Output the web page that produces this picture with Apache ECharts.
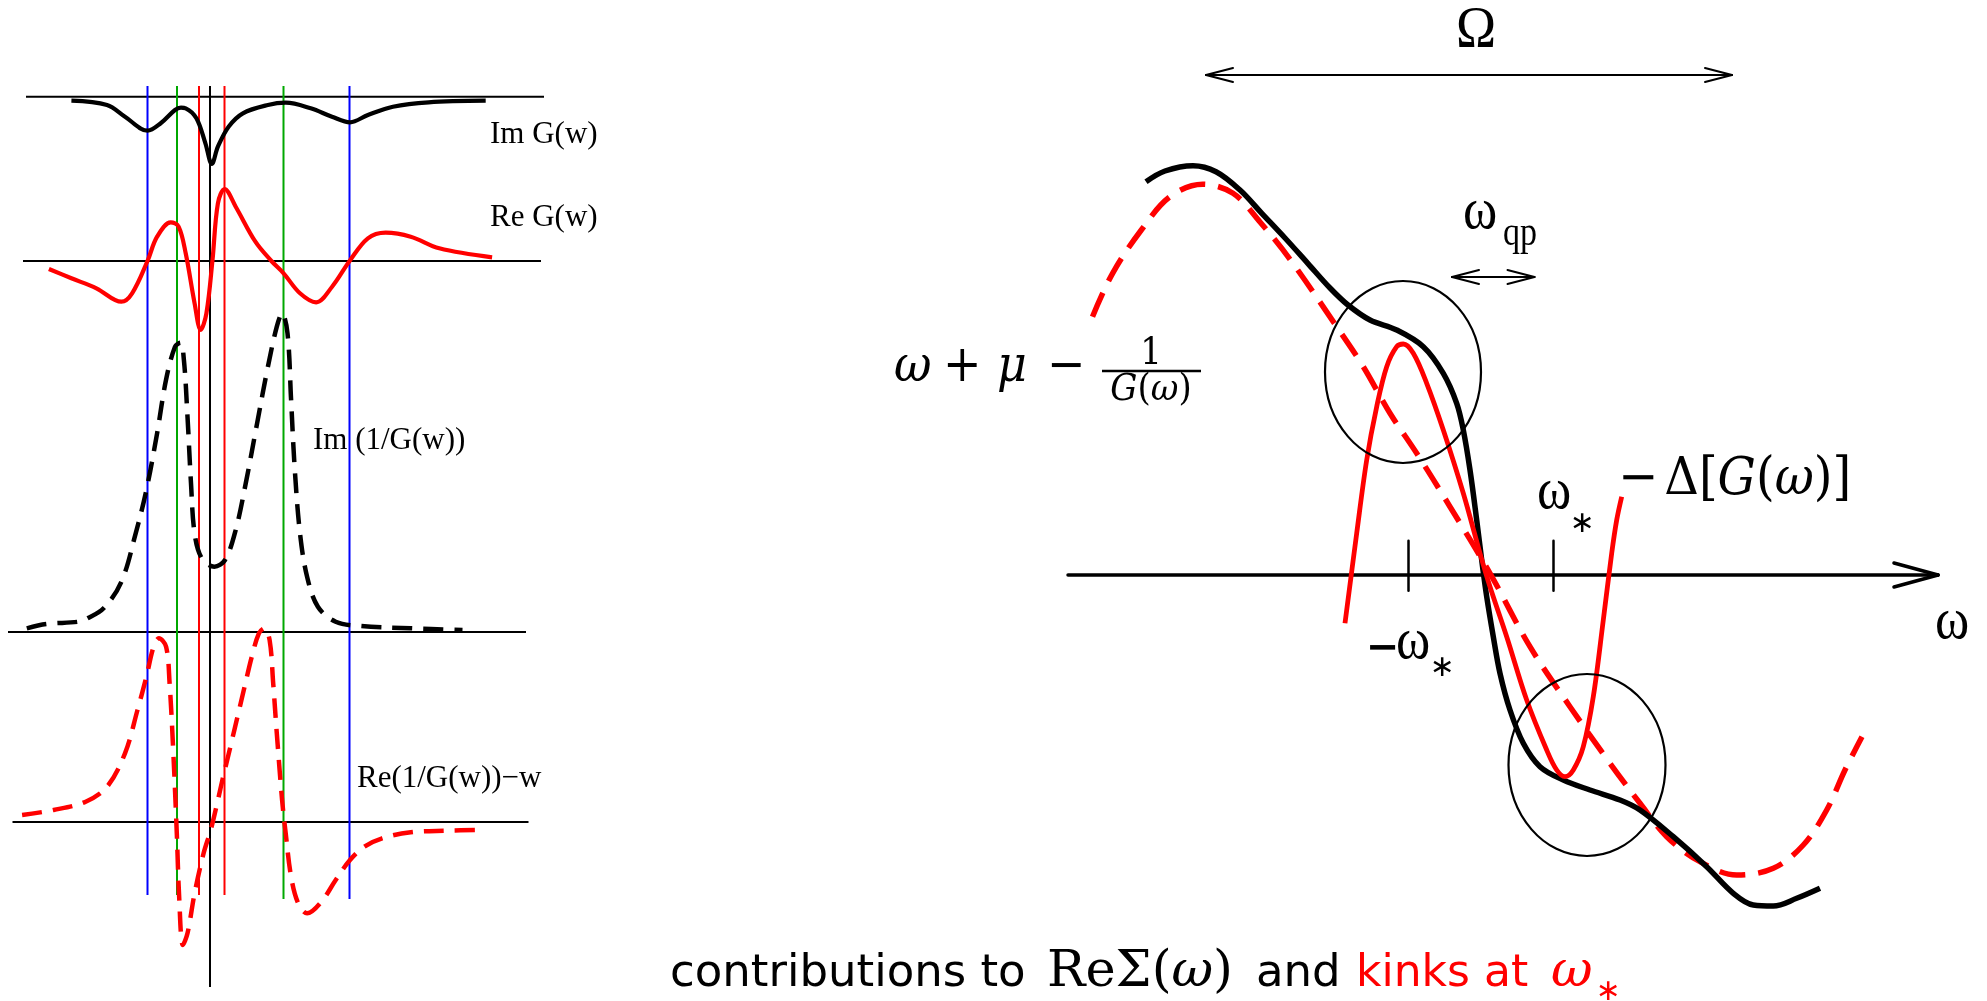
<!DOCTYPE html>
<html>
<head>
<meta charset="utf-8">
<title>contributions to Re Sigma and kinks</title>
<script src="https://cdn.jsdelivr.net/npm/echarts@6/dist/echarts.min.js"></script>
<style>
  html, body { margin: 0; padding: 0; background: #ffffff; }
  #chart { width: 1987px; height: 1001px; }
</style>
</head>
<body>
<div id="chart"></div>
<script>
// ---------------- left panel: spectral functions vs w (1 unit = 10 px) ----------------
const imG = [[-13.86,-0.40],[-10.3,-0.83],[-8.5,-2.0],[-6.25,-3.4],[-4.93,-2.66],[-3.5,-1.33],[-2.9,-1.1],[-2.43,-1.16],[-1.36,-2.16],[-0.46,-4.66],[0.18,-6.73],[0.79,-5.0],[1.86,-3.0],[3.29,-1.66],[5.79,-0.83],[7.57,-0.6],[10.07,-1.16],[12.2,-2.0],[14.0,-2.56],[15.79,-1.83],[18.29,-1.0],[21.86,-0.56],[27.57,-0.40]];
const reG = [[-16.11,-0.8],[-13.86,-1.73],[-11.36,-2.73],[-8.86,-4.07],[-7.79,-3.23],[-6.25,0],[-5.29,2.43],[-3.93,3.87],[-3.14,3.43],[-2.43,0.77],[-1.54,-4.23],[-0.93,-6.9],[-0.36,-5.23],[0.25,0.1],[0.79,5.77],[1.46,7.2],[2.57,5.43],[4.54,1.93],[6.14,0],[7.36,-1.23],[9.0,-3.23],[10.61,-4.13],[12.21,-2.57],[13.96,0],[15.79,2.27],[17.57,2.83],[20.07,2.43],[22.93,1.27],[28.21,0.37]];
const imInvG = [[-18.32,0.37],[-16.36,0.8],[-13.14,1.03],[-12.25,1.37],[-10.64,2.37],[-8.86,5.03],[-7.43,9.87],[-6.36,14.2],[-5.29,19.87],[-4.4,25.2],[-3.5,28.53],[-2.96,28.93],[-2.61,27.2],[-2.25,21.53],[-1.9,14.87],[-1.54,9.87],[-0.82,7.37],[0.43,6.53],[1.5,7.2],[2.57,10.2],[3.64,15.2],[4.71,20.87],[5.79,26.53],[6.68,30.53],[7.21,31.87],[7.75,29.87],[8.11,23.2],[8.46,16.53],[9.0,9.87],[9.71,5.53],[10.79,2.53],[12.57,1.03],[15.07,0.6],[20.07,0.37],[25.25,0.2]];
const reInvGMinusW = [[-18.79,0.7],[-15.64,1.2],[-12.43,2.03],[-10.29,3.53],[-8.5,6.87],[-7.25,11.2],[-6.36,14.53],[-5.64,17.53],[-5.11,18.37],[-4.39,17.53],[-4.04,13.87],[-3.68,7.2],[-3.32,-1.13],[-3.07,-7.8],[-2.71,-12.3],[-2.25,-11.13],[-1.54,-7.13],[-0.64,-3.13],[0.07,-0.8],[0.79,2.2],[1.32,4.53],[2.04,7.53],[2.75,10.53],[3.46,13.53],[4.18,16.53],[4.89,18.87],[5.43,19.37],[5.96,18.2],[6.32,13.87],[6.68,8.87],[7.21,2.2],[7.57,-1.13],[8.11,-5.47],[8.82,-8.13],[9.71,-9.13],[11.14,-7.97],[12.57,-5.8],[14.0,-3.8],[15.43,-2.47],[17.21,-1.63],[20.07,-1.03],[23.64,-0.87],[27.21,-0.8]];

// zero lines of the four strips: [w start, w end]
const leftAxisSpans = [[-18.4, 33.4], [-18.7, 33.1], [-20.2, 31.6], [-19.75, 31.85]];

// vertical marker frequencies, with their extent on the depth axis (0 = top)
const markerW = [-6.25, -3.3, -1.1, 0, 1.45, 7.35, 13.95];
const markerTop = [86, 86, 86, 86, 86, 86, 86];
const markerBottom = [895, 895, 895, 987, 895, 899, 899];
const markerColors = ['#0000ff', '#00a800', '#ff0000', '#000000', '#ff0000', '#00a800', '#0000ff'];

// ---------------- right panel: real parts vs omega (1 unit = 10 px) ----------------
const reSigma = [[-33.5,39.33],[-31.6,40.4],[-28.8,40.93],[-26.5,40.33],[-24.1,38.5],[-21.92,36.17],[-19.6,33.7],[-17.32,31.17],[-15.1,28.7],[-13.3,27.0],[-11.1,25.5],[-8.43,24.5],[-5.77,22.83],[-3.77,20.17],[-2.43,17.17],[-1.77,14.5],[-1.1,10.5],[-0.43,5.5],[0.07,1.5],[0.57,-2.17],[1.23,-6.17],[1.9,-9.83],[2.9,-13.5],[4.23,-16.83],[5.9,-19.17],[8.23,-20.5],[10.9,-21.5],[13.9,-22.5],[15.9,-23.5],[19.23,-26.17],[22.57,-29.17],[25.23,-31.83],[27.23,-33.0],[29.23,-33.1],[31.57,-32.33],[33.9,-31.33]];
const bareInverse = [[-38.85,25.83],[-36.84,30.17],[-33.97,34.5],[-31.1,37.83],[-27.83,39.07],[-24.8,38.17],[-22.1,35.3],[-19.05,31.5],[-14.43,24.83],[-11.77,20.83],[-9.1,16.17],[-6.43,12.17],[-3.1,6.83],[0.9,0.17],[4.9,-7.17],[8.9,-13.17],[12.9,-18.83],[15.9,-22.83],[18.57,-26.17],[21.9,-28.67],[25.57,-30.0],[29.23,-29.33],[32.23,-27.0],[34.57,-23.5],[36.4,-19.5],[38.1,-16.17]];
const minusDelta = [[-13.6,-4.83],[-12.43,4.17],[-11.43,11.5],[-10.43,16.83],[-9.43,20.83],[-8.43,22.83],[-7.77,23.1],[-6.77,22.17],[-5.43,19.17],[-3.77,14.5],[-1.77,8.17],[-0.1,2.17],[0.9,-1.17],[2.57,-6.17],[4.57,-12.5],[6.57,-17.5],[7.57,-19.5],[8.4,-20.17],[9.23,-19.5],[10.23,-17.17],[11.23,-12.17],[12.23,-4.5],[13.07,2.17],[13.57,5.5],[14.07,7.83]];

const omegaAxisSpan = [[-41.3, 45.7]];
const tickMarks = [-7.25, 7.25];
// double arrows: [start, end, height]
const spanArrows = [[-27.5, 25.1, 50.0], [-2.9, 5.35, 29.8]];
// highlighted regions: [centre omega, centre value, half width, half height]
const rings = [[-7.8, 20.3, 7.8, 9.1], [10.6, -19.0, 7.85, 9.1]];

// ---------------- text helpers ----------------
const SERIF = 'Liberation Serif';
const MATH = 'DejaVu Serif';
const SANS = 'DejaVu Sans';
const RED = '#ff0000';
const mctx = document.createElement('canvas').getContext('2d');

function textEl(x, baseline, t, o) {
  const size = o.size;
  return {
    type: 'text', x: x, y: baseline, scaleX: o.sx || 1, scaleY: o.sy || 1,
    silent: true, z: 100,
    style: {
      text: t, x: 0, y: -0.34 * size,
      fontSize: size, fontFamily: o.family,
      fontStyle: o.italic ? 'italic' : 'normal', fontWeight: o.bold ? 'bold' : 'normal',
      fill: o.color || '#000',
      align: o.align || 'left', textAlign: o.align || 'left',
      verticalAlign: 'middle', textVerticalAlign: 'middle'
    }
  };
}
function textWidth(t, o) {
  mctx.font = (o.italic ? 'italic ' : '') + (o.bold ? 'bold ' : '') + o.size + 'px "' + o.family + '"';
  return mctx.measureText(t).width * (o.sx || 1);
}
// lay out a run of differently styled pieces along one baseline
function runText(x0, baseline, parts, common) {
  const els = [];
  let x = x0;
  parts.forEach(p => {
    const o = Object.assign({}, common, p);
    if (p.at !== undefined) x = p.at;
    x += o.gap || 0;
    els.push(textEl(x, baseline + (o.dy || 0), o.t, o));
    x += textWidth(o.t, o);
  });
  return els;
}
function runWidth(parts, common) {
  return parts.reduce((s, p) => { const o = Object.assign({}, common, p); return s + (o.gap || 0) + textWidth(o.t, o); }, 0);
}

const graphics = [];
// left strip labels
const leftLab = { size: 31, family: SERIF };
graphics.push(textEl(490, 145, 'Im G(w)', leftLab));
graphics.push(textEl(490, 228, 'Re G(w)', leftLab));
graphics.push(textEl(313, 451, 'Im (1/G(w))', leftLab));
graphics.push(textEl(357, 789, 'Re(1/G(w))\u2212w', leftLab));

// right panel labels
const bigSym = { size: 52, family: SERIF, sy: 1.15 };
graphics.push(textEl(1476, 52, '\u03A9', { size: 54, family: SERIF, align: 'center', sy: 1.1 }));
graphics.push(textEl(1463, 233, '\u03C9', bigSym));
graphics.push(textEl(1503, 248, 'qp', { size: 34, family: SERIF, sy: 1.15 }));
graphics.push(textEl(1537, 513, '\u03C9', bigSym));
graphics.push(textEl(1582, 534, '\u2217', { size: 30, family: SANS, align: 'center' }));
graphics.push(textEl(1366, 663, '\u2212', { size: 40, family: SANS, bold: true }));
graphics.push(textEl(1396, 663, '\u03C9', bigSym));
graphics.push(textEl(1442, 678, '\u2217', { size: 30, family: SANS, align: 'center' }));
graphics.push(textEl(1935, 643, '\u03C9', bigSym));

// -Delta[G(omega)]
graphics.push(...runText(1618, 498, [
  { t: '\u2212' }, { t: '\u0394', gap: 6 }, { t: '[' }, { t: 'G', italic: true },
  { t: '(' }, { t: '\u03C9', italic: true }, { t: ')' }, { t: ']' }
], { size: 48, family: MATH, sy: 1.1 }));

// omega + mu - 1/G(omega)
const fm = { size: 46, family: MATH, sy: 1.1 };
graphics.push(textEl(894, 385, '\u03C9', Object.assign({ italic: true }, fm)));
graphics.push(textEl(943, 385, '+', fm));
graphics.push(textEl(997, 385, '\u03BC', Object.assign({ italic: true }, fm)));
graphics.push(textEl(1047, 385, '\u2212', fm));
graphics.push(textEl(1151, 367, '1', { size: 34, family: MATH, align: 'center', sy: 1.1 }));
graphics.push({ type: 'line', silent: true, z: 100, shape: { x1: 1102, y1: 371, x2: 1201, y2: 371 }, style: { stroke: '#000', lineWidth: 2.5 } });
const denParts = [{ t: 'G', italic: true }, { t: '(' }, { t: '\u03C9', italic: true }, { t: ')' }];
const denCommon = { size: 34, family: MATH, sy: 1.1 };
graphics.push(...runText(1151 - runWidth(denParts, denCommon) / 2, 403, denParts, denCommon));

// caption
graphics.push(...runText(670, 990, [
  { t: 'contributions to', family: SANS, size: 45 },
  { t: 'Re', at: 1047 }, { t: '\u03A3' }, { t: '(' }, { t: '\u03C9', italic: true }, { t: ')' },
  { t: 'and', at: 1256, family: SANS, size: 45 },
  { t: 'kinks at', at: 1356, family: SANS, size: 44, color: RED },
  { t: '\u03C9', at: 1551, italic: true, color: RED }
], { size: 51, family: MATH }));
graphics.push(textEl(1608, 1002, '\u2217', { size: 30, family: SANS, align: 'center', color: RED }));

// ---------------- chart ----------------
const hiddenX = (i, min, max) => ({ type: 'value', gridIndex: i, min: min, max: max, show: false });
const hiddenY = (i, min, max, inv) => ({ type: 'value', gridIndex: i, min: min, max: max, show: false, inverse: !!inv });

const curve = (data, gi, color, width, dash, smooth) => ({
  type: 'line', xAxisIndex: gi, yAxisIndex: gi, data: data,
  showSymbol: false, symbol: 'none', smooth: smooth, silent: true, clip: false, z: 4,
  lineStyle: { color: color, width: width, type: dash || 'solid', cap: 'butt', join: 'round' }
});
const zeroLine = (span, gi) => ({
  type: 'line', xAxisIndex: gi, yAxisIndex: gi, data: [[span[0], 0], [span[1], 0]],
  showSymbol: false, symbol: 'none', silent: true, clip: false, z: 1,
  lineStyle: { color: '#000', width: 2 }
});
const seg = (a, b, w) => ({ type: 'line', shape: { x1: a[0], y1: a[1], x2: b[0], y2: b[1] }, style: { stroke: '#000', lineWidth: w, lineCap: 'round' } });

const option = {
  animation: false,
  backgroundColor: '#ffffff',
  grid: [
    { left: 0, width: 560, top: 76.7, height: 100, containLabel: false, outerBoundsMode: 'none' },
    { left: 0, width: 560, top: 171, height: 180, containLabel: false, outerBoundsMode: 'none' },
    { left: 0, width: 560, top: 292, height: 360, containLabel: false, outerBoundsMode: 'none' },
    { left: 0, width: 560, top: 612, height: 380, containLabel: false, outerBoundsMode: 'none' },
    { left: 0, width: 560, top: 0, height: 1001, containLabel: false, outerBoundsMode: 'none' },
    { left: 1001, width: 960, top: 25, height: 970, containLabel: false, outerBoundsMode: 'none' }
  ],
  xAxis: [hiddenX(0, -21, 35), hiddenX(1, -21, 35), hiddenX(2, -21, 35), hiddenX(3, -21, 35), hiddenX(4, -21, 35), hiddenX(5, -48, 48)],
  yAxis: [hiddenY(0, -8, 2), hiddenY(1, -9, 9), hiddenY(2, -2, 34), hiddenY(3, -17, 21), hiddenY(4, 0, 1001, true), hiddenY(5, -42, 55)],
  graphic: { elements: graphics },
  series: [
    zeroLine(leftAxisSpans[0], 0),
    zeroLine(leftAxisSpans[1], 1),
    zeroLine(leftAxisSpans[2], 2),
    zeroLine(leftAxisSpans[3], 3),
    {
      type: 'custom', xAxisIndex: 4, yAxisIndex: 4, silent: true, z: 2,
      data: markerW.map((w, i) => [w, markerTop[i], markerBottom[i]]),
      renderItem: (params, api) => {
        const a = api.coord([api.value(0), api.value(1)]);
        const b = api.coord([api.value(0), api.value(2)]);
        return { type: 'line', shape: { x1: a[0], y1: a[1], x2: b[0], y2: b[1] },
          style: { stroke: markerColors[params.dataIndex], lineWidth: 2 } };
      }
    },
    curve(imG, 0, '#000000', 4.2, 'solid', 0.35),
    curve(reG, 1, '#ff0000', 4.2, 'solid', 0.35),
    curve(imInvG, 2, '#000000', 4.5, [20, 11], 0.35),
    curve(reInvGMinusW, 3, '#ff0000', 4.5, [20, 11], 0.35),

    // omega axis with open arrow head
    {
      type: 'custom', xAxisIndex: 5, yAxisIndex: 5, silent: true, z: 1,
      data: omegaAxisSpan,
      renderItem: (params, api) => {
        const a = api.coord([api.value(0), 0]);
        const b = api.coord([api.value(1), 0]);
        return { type: 'group', children: [
          seg(a, b, 3.5), seg(b, [b[0] - 44, b[1] - 12], 3.5), seg(b, [b[0] - 44, b[1] + 12], 3.5)
        ] };
      }
    },
    {
      type: 'custom', xAxisIndex: 5, yAxisIndex: 5, silent: true, z: 1,
      data: tickMarks.map(u => [u]),
      renderItem: (params, api) => {
        const a = api.coord([api.value(0), 3.43]);
        const b = api.coord([api.value(0), -1.57]);
        return seg(a, b, 2.5);
      }
    },
    {
      type: 'custom', xAxisIndex: 5, yAxisIndex: 5, silent: true, z: 1,
      data: spanArrows,
      renderItem: (params, api) => {
        const a = api.coord([api.value(0), api.value(2)]);
        const b = api.coord([api.value(1), api.value(2)]);
        const L = 27, H = 7;
        return { type: 'group', children: [
          seg(a, b, 2), seg(a, [a[0] + L, a[1] - H], 2), seg(a, [a[0] + L, a[1] + H], 2),
          seg(b, [b[0] - L, b[1] - H], 2), seg(b, [b[0] - L, b[1] + H], 2)
        ] };
      }
    },
    curve(bareInverse, 5, '#ff0000', 5.5, [26, 13], 0.35),
    curve(reSigma, 5, '#000000', 5.5, 'solid', 0.35),
    curve(minusDelta, 5, '#ff0000', 4.8, 'solid', 0.35),
    {
      type: 'custom', xAxisIndex: 5, yAxisIndex: 5, silent: true, z: 6,
      data: rings,
      renderItem: (params, api) => {
        const c = api.coord([api.value(0), api.value(1)]);
        const s = api.size([api.value(2), api.value(3)]);
        return { type: 'ellipse', shape: { cx: c[0], cy: c[1], rx: s[0], ry: s[1] },
          style: { fill: 'none', stroke: '#000', lineWidth: 2.2 } };
      }
    }
  ]
};

const chart = echarts.init(document.getElementById('chart'), null, { renderer: 'canvas' });
chart.setOption(option);
</script>
</body>
</html>
